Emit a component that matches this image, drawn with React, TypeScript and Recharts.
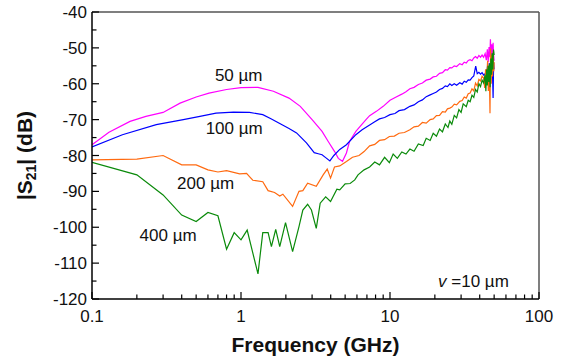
import {
  LineChart,
  Line,
  XAxis,
  YAxis,
  ReferenceLine,
  ReferenceDot,
} from 'recharts';

// |S21| (dB) vs frequency (GHz), one [f, dB] list per sample thickness
const um50: [number, number][] = [
  [0.1, -77.0], [0.13, -73.5], [0.18, -70.5], [0.23, -69.1], [0.3, -68.0], [0.39, -65.4],
  [0.5, -63.7], [0.61, -62.6], [0.8, -61.6], [1.0, -61.1], [1.3, -61.0], [1.65, -62.1],
  [2.1, -64.0], [2.5, -66.3], [3.0, -70.0], [3.5, -73.3], [3.85, -76.1], [4.25, -78.9],
  [4.5, -80.8], [4.8, -81.6], [5.1, -79.3], [5.35, -76.1], [5.9, -73.3], [6.9, -70.0],
  [7.3, -68.9], [8.1, -67.7], [9, -66.3], [10, -64.6], [11, -63.7], [12, -62.9],
  [12.8, -62.2], [13.6, -61.4], [14.5, -61.0], [15.5, -60.2], [16.5, -59.8], [17.5, -59.0],
  [18.6, -58.7], [19.5, -58.1], [20.5, -57.9], [21.5, -57.1], [22.5, -56.9], [23.5, -56.1],
  [24.3, -56.2], [25.2, -55.5], [26, -55.6], [27, -55.0], [28, -55.2], [29.4, -54.4],
  [30.5, -54.7], [31.5, -54.0], [32.5, -54.2], [33.5, -53.5], [34.5, -53.3], [35.5, -53.6],
  [36.5, -52.8], [37.5, -52.4], [38.5, -52.9], [39.5, -52.1], [40.5, -52.6], [41.5, -52.0],
  [42.5, -52.6], [43.5, -51.6], [44.3, -53.4], [45, -50.4], [45.6, -54.0], [46.2, -49.8],
  [46.8, -52.6], [47.2, -47.6], [47.7, -52.2], [48.2, -49.0], [48.7, -54.2], [49.2, -48.6],
  [49.6, -52.0], [50, -53.6],
];

const um100: [number, number][] = [
  [0.1, -77.6], [0.16, -74.2], [0.27, -71.4], [0.41, -70.0], [0.53, -69.1], [0.68, -68.2],
  [0.89, -67.9], [1.14, -68.0], [1.4, -68.6], [1.6, -69.8], [1.82, -71.1], [2.1, -72.5],
  [2.36, -73.7], [2.75, -76.5], [3.1, -79.2], [3.3, -79.5], [3.5, -79.8], [3.7, -80.6],
  [3.95, -81.5], [4.2, -80.0], [4.6, -78.3], [5.1, -77.0], [5.9, -74.2], [6.5, -72.8],
  [7.3, -71.5], [7.9, -70.6], [8.5, -69.8], [9.2, -69.4], [10, -68.6], [10.8, -68.3],
  [11.5, -67.5], [12.5, -67.2], [13.6, -66.3], [14.5, -65.9], [15.5, -65.0], [16.5, -64.5],
  [17.5, -63.6], [18.6, -63.1], [19.5, -62.7], [20.5, -62.3], [21.5, -61.6], [22.5, -61.3],
  [23.5, -60.6], [24.3, -60.8], [25.2, -60.0], [26, -60.5], [27, -60.0], [28, -60.4],
  [29.4, -59.7], [30.5, -60.1], [31.5, -59.3], [32.5, -59.6], [33.5, -58.9], [34.5, -59.0],
  [35.5, -58.3], [36.5, -57.8], [37.6, -55.1], [38.5, -57.2], [39.5, -56.8], [40.5, -57.3],
  [41.5, -56.9], [42.5, -57.6], [43.5, -57.2], [44.5, -57.4], [45.2, -55.0], [45.8, -58.6],
  [46.4, -54.2], [47, -57.8], [47.5, -52.8], [48, -57.0], [48.5, -53.2], [49.2, -64.0],
  [49.6, -54.0], [50, -56.0],
];

const um200: [number, number][] = [
  [0.1, -81.2], [0.2, -81.0], [0.3, -80.0], [0.4, -82.6], [0.5, -82.6], [0.6, -84.0],
  [0.7, -84.6], [0.8, -84.2], [0.98, -85.1], [1.09, -85.0], [1.14, -85.9], [1.2, -86.9],
  [1.4, -87.3], [1.52, -89.8], [1.68, -90.3], [1.82, -91.3], [1.91, -90.8], [2.22, -94.2],
  [2.45, -90.0], [2.6, -89.8], [2.8, -87.7], [3.2, -88.6], [3.56, -85.4], [3.79, -83.8],
  [3.99, -86.3], [4.24, -83.2], [4.6, -82.9], [5.1, -81.7], [5.6, -80.5], [6.2, -80.0],
  [6.7, -78.9], [7.3, -77.3], [7.9, -76.9], [8.5, -75.8], [9.2, -75.6], [9.9, -74.7],
  [10.7, -74.6], [11.5, -73.8], [12.5, -73.6], [13.6, -72.8], [14.5, -72.0], [15.5, -71.8],
  [16.5, -70.8], [17.5, -71.0], [18.6, -70.0], [19.5, -69.8], [20.5, -68.9], [21.5, -68.8],
  [22.5, -67.8], [23.5, -67.9], [24.3, -67.0], [25.2, -66.8], [26, -66.5], [27, -65.7],
  [28, -65.9], [29.4, -64.9], [30.5, -64.7], [31.5, -63.7], [32.5, -64.0], [33.5, -62.8],
  [34.5, -62.6], [35.5, -61.4], [36.5, -62.0], [37.5, -59.8], [38.5, -60.6], [39.5, -58.8],
  [40.5, -59.2], [41.5, -57.9], [42.5, -58.4], [43.2, -61.2], [43.8, -56.0], [44.5, -59.0],
  [45.2, -53.6], [45.7, -62.0], [46.3, -55.0], [46.9, -68.2], [47.3, -50.2], [47.8, -60.0],
  [48.3, -52.0], [48.8, -58.0], [49.3, -51.0], [49.7, -56.5], [50, -54.0],
];

const um400: [number, number][] = [
  [0.1, -81.9], [0.2, -85.4], [0.3, -91.0], [0.4, -96.6], [0.5, -98.4], [0.6, -95.9],
  [0.7, -96.8], [0.8, -106.1], [0.9, -101.5], [1.0, -103.5], [1.1, -100.8], [1.3, -113.0],
  [1.4, -101.5], [1.52, -101.5], [1.6, -105.4], [1.71, -100.6], [1.82, -105.4], [1.99, -98.7],
  [2.22, -106.8], [2.45, -99.8], [2.6, -95.2], [2.8, -93.6], [2.97, -95.2], [3.2, -100.3],
  [3.4, -93.3], [3.7, -91.5], [3.99, -92.8], [4.4, -89.4], [4.6, -89.6], [5.0, -87.9],
  [5.4, -87.8], [5.8, -86.8], [6.1, -85.4], [6.7, -84.0], [7.3, -83.2], [7.9, -81.8],
  [8.5, -82.6], [9.2, -80.5], [9.9, -82.0], [10.5, -79.6], [11.2, -80.8], [12, -79.0],
  [12.8, -79.6], [13.6, -78.2], [14.5, -78.8], [15.5, -76.8], [16.7, -77.2], [17.5, -75.2],
  [18.6, -75.8], [19.5, -73.8], [20.5, -74.6], [21.5, -72.6], [22.5, -73.4], [23.5, -71.2],
  [24.5, -72.2], [25.2, -70.4], [26, -71.3], [27, -68.8], [28, -69.5], [29, -67.2],
  [30, -68.0], [31, -65.6], [32.5, -66.4], [33.5, -64.6], [34.5, -65.0], [35.5, -63.2],
  [36.5, -63.8], [37.5, -61.6], [38.5, -62.3], [39.5, -60.0], [40.5, -60.8], [41.5, -59.0],
  [42.5, -59.8], [43.4, -57.5], [44, -62.1], [44.5, -56.0], [45, -60.5], [45.5, -55.0],
  [46, -59.5], [46.5, -54.5], [47, -61.0], [47.5, -53.0], [48, -57.5], [48.5, -51.5],
  [49, -56.0], [49.5, -50.5], [50, -52.0],
];

const xMajor = [0.1, 1, 10, 100];
const xTicks = [
  0.1, 0.2, 0.3, 0.4, 0.5, 0.6, 0.7, 0.8, 0.9,
  1, 2, 3, 4, 5, 6, 7, 8, 9,
  10, 20, 30, 40, 50, 60, 70, 80, 90,
  100,
];
const yTicks = [-120, -115, -110, -105, -100, -95, -90, -85, -80, -75, -70, -65, -60, -55, -50, -45, -40];

const font = 'Arial, "Liberation Sans", sans-serif';

const toRows = (pts: [number, number][]) => pts.map(([f, db]) => ({ f, db }));

function XTick({ x, y, payload }: any) {
  const major = xMajor.includes(payload.value);
  return (
    <g>
      <line x1={x} x2={x} y1={y} y2={y - (major ? 7 : 4.5)} stroke="#000" strokeWidth={1.2} />
      {major && (
        <text x={x} y={y + 23} textAnchor="middle" fontSize={17} fontFamily={font} fill="#111">
          {String(payload.value)}
        </text>
      )}
    </g>
  );
}

function YTick({ x, y, payload }: any) {
  const major = payload.value % 10 === 0;
  return (
    <g>
      <line x1={x} x2={x + (major ? 7 : 4.5)} y1={y} y2={y} stroke="#000" strokeWidth={1.2} />
      {major && (
        <text x={x - 5} y={y + 6} textAnchor="end" fontSize={17} fontFamily={font} fill="#111">
          {payload.value}
        </text>
      )}
    </g>
  );
}

const note = (text: React.ReactNode) => ({ viewBox }: any) => (
  <text
    x={viewBox.x + viewBox.width / 2}
    y={viewBox.y + viewBox.height / 2 + 6}
    textAnchor="middle"
    fontSize={17}
    fontFamily={font}
    fill="#111"
  >
    {text}
  </text>
);

export default function App() {
  return (
    <div style={{ position: 'absolute', left: 0, top: 0, background: '#fff' }}>
      <LineChart width={562} height={359} margin={{ top: 12, right: 23, bottom: 0, left: 0 }}>
        <XAxis
          dataKey="f"
          type="number"
          scale="log"
          domain={[0.1, 100]}
          allowDataOverflow
          ticks={xTicks}
          interval={0}
          tick={<XTick />}
          tickLine={false}
          tickSize={0}
          tickMargin={0}
          height={60}
          axisLine={{ stroke: '#000', strokeWidth: 1.5 }}
          label={{
            content: ({ viewBox }: any) => (
              <text
                x={viewBox.x + viewBox.width / 2}
                y={viewBox.y + 53}
                textAnchor="middle"
                fontSize={21}
                fontWeight="bold"
                fontFamily={font}
                fill="#111"
              >
                Frequency (GHz)
              </text>
            ),
          }}
        />
        <YAxis
          type="number"
          domain={[-120, -40]}
          allowDataOverflow
          ticks={yTicks}
          interval={0}
          tick={<YTick />}
          tickLine={false}
          tickSize={0}
          tickMargin={0}
          width={92}
          axisLine={{ stroke: '#000', strokeWidth: 1.5 }}
          label={{
            content: ({ viewBox }: any) => {
              const cx = viewBox.x + 32;
              const cy = viewBox.y + viewBox.height / 2;
              return (
                <text
                  x={cx}
                  y={cy}
                  transform={`rotate(-90, ${cx}, ${cy})`}
                  textAnchor="middle"
                  fontSize={21}
                  fontWeight="bold"
                  fontFamily={font}
                  fill="#111"
                >
                  |S<tspan fontSize={14} dy={4}>21</tspan>
                  <tspan dy={-4}>| (dB)</tspan>
                </text>
              );
            },
          }}
        />
        <ReferenceLine y={-40} stroke="#555" strokeWidth={1.5} />
        <ReferenceLine x={100} stroke="#555" strokeWidth={1.5} />
        <Line data={toRows(um50)} dataKey="db" stroke="#ff00ff" strokeWidth={1.2} dot={false} isAnimationActive={false} />
        <Line data={toRows(um100)} dataKey="db" stroke="#0000ff" strokeWidth={1.2} dot={false} isAnimationActive={false} />
        <Line data={toRows(um200)} dataKey="db" stroke="#ff6a10" strokeWidth={1.2} dot={false} isAnimationActive={false} />
        <Line data={toRows(um400)} dataKey="db" stroke="#0a8a0a" strokeWidth={1.2} dot={false} isAnimationActive={false} />
        <ReferenceDot x={0.965} y={-57.5} r={0} label={{ content: note('50 µm') }} />
        <ReferenceDot x={0.9} y={-72.4} r={0} label={{ content: note('100 µm') }} />
        <ReferenceDot x={0.579} y={-87.6} r={0} label={{ content: note('200 µm') }} />
        <ReferenceDot x={0.324} y={-102.2} r={0} label={{ content: note('400 µm') }} />
        <ReferenceDot
          x={36.3}
          y={-115.1}
          r={0}
          label={{ content: note(<><tspan fontStyle="italic">v</tspan> =10 µm</>) }}
        />
      </LineChart>
    </div>
  );
}
